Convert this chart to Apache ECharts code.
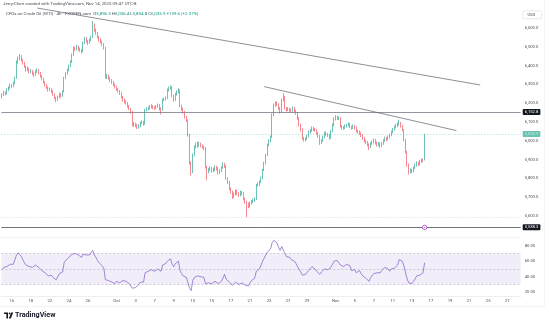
<!DOCTYPE html>
<html>
<head>
<meta charset="utf-8">
<script src="https://cdn.jsdelivr.net/npm/echarts@6/dist/echarts.min.js"></script>
<style>
  html, body { margin: 0; padding: 0; background: #ffffff; }
  #chart { width: 549px; height: 328px; }
</style>
</head>
<body>
<div id="chart"></div>
<script>
// CFDs on Crude Oil (WTI), 4h candles, price x100 — [open, close, low, high]
const ohlc = [
  [6232,6244,6225,6252],[6244,6258,6238,6266],[6258,6250,6242,6263],[6250,6272,6246,6279],[6272,6281,6264,6290],
  [6281,6296,6276,6304],[6296,6289,6280,6302],[6289,6308,6285,6316],[6308,6334,6300,6340],[6334,6419,6330,6428],
  [6419,6440,6410,6448],[6440,6451,6428,6462],[6451,6430,6422,6456],[6430,6414,6405,6436],[6414,6395,6388,6420],
  [6395,6377,6368,6400],[6377,6383,6370,6394],[6383,6366,6358,6388],[6366,6372,6360,6382],[6372,6358,6350,6377],
  [6358,6350,6338,6364],[6350,6368,6345,6376],[6368,6377,6360,6386],[6377,6360,6352,6382],[6360,6345,6336,6366],
  [6345,6330,6322,6350],[6330,6312,6305,6336],[6312,6297,6288,6318],[6297,6285,6276,6302],[6285,6270,6262,6290],
  [6270,6276,6264,6284],[6276,6265,6255,6280],[6265,6248,6240,6270],[6248,6228,6220,6252],[6228,6217,6205,6234],
  [6217,6232,6212,6240],[6232,6249,6226,6256],[6249,6238,6230,6255],[6238,6262,6234,6268],[6262,6334,6258,6340],
  [6334,6360,6328,6366],[6360,6377,6352,6384],[6377,6398,6370,6405],[6398,6420,6392,6428],[6420,6457,6414,6464],
  [6457,6494,6450,6502],[6494,6488,6478,6500],[6488,6500,6482,6510],[6500,6490,6480,6506],[6490,6483,6472,6496],
  [6483,6476,6465,6490],[6476,6521,6470,6528],[6521,6547,6515,6554],[6547,6530,6522,6552],[6530,6521,6510,6536],
  [6521,6538,6516,6545],[6538,6553,6530,6560],[6553,6617,6548,6638],[6617,6590,6580,6625],[6590,6574,6565,6598],
  [6574,6552,6545,6580],[6552,6537,6528,6558],[6537,6528,6518,6545],[6528,6515,6505,6534],[6515,6494,6486,6520],
  [6494,6339,6330,6500],[6339,6345,6328,6356],[6345,6334,6325,6352],[6334,6322,6312,6340],[6322,6313,6302,6328],
  [6313,6300,6290,6318],[6300,6286,6278,6306],[6286,6275,6266,6292],[6275,6265,6256,6280],[6265,6254,6244,6270],
  [6254,6232,6224,6260],[6232,6217,6208,6238],[6217,6210,6198,6224],[6210,6201,6192,6216],[6201,6185,6176,6206],
  [6185,6170,6162,6190],[6170,6153,6144,6175],[6153,6084,6076,6158],[6084,6090,6074,6100],[6090,6084,6072,6096],
  [6084,6070,6062,6090],[6070,6078,6064,6088],[6078,6095,6072,6102],[6095,6100,6088,6108],[6100,6089,6080,6106],
  [6089,6164,6085,6170],[6164,6170,6156,6178],[6170,6174,6162,6182],[6174,6180,6166,6190],[6180,6185,6172,6194],
  [6185,6178,6168,6190],[6178,6174,6164,6184],[6174,6182,6168,6190],[6182,6190,6176,6198],[6190,6172,6162,6195],
  [6172,6164,6140,6178],[6164,6217,6160,6224],[6217,6222,6210,6230],[6222,6228,6214,6236],[6228,6270,6222,6278],
  [6270,6280,6262,6288],[6280,6286,6272,6295],[6286,6240,6232,6290],[6240,6217,6208,6246],[6217,6248,6212,6255],
  [6248,6260,6240,6268],[6260,6270,6252,6280],[6270,6185,6178,6274],[6185,6170,6160,6192],[6170,6153,6144,6176],
  [6153,6126,6118,6158],[6126,6110,6100,6132],[6110,6030,6022,6114],[6030,5881,5872,6036],[5881,5833,5815,5890],
  [5833,5924,5828,5932],[5924,5966,5918,5975],[5966,5972,5958,5990],[5972,5977,5962,5996],[5977,5985,5968,5994],
  [5985,5972,5964,5990],[5972,5968,5958,5980],[5968,5961,5950,5974],[5961,5860,5852,5966],[5860,5833,5790,5866],
  [5833,5845,5826,5854],[5845,5854,5838,5864],[5854,5840,5830,5860],[5840,5844,5832,5856],[5844,5858,5838,5868],
  [5858,5854,5842,5866],[5854,5830,5820,5860],[5830,5838,5822,5848],[5838,5856,5832,5864],[5856,5876,5850,5884],
  [5876,5865,5855,5882],[5865,5800,5792,5870],[5800,5780,5770,5806],[5780,5745,5736,5786],[5745,5727,5718,5752],
  [5727,5700,5690,5734],[5700,5715,5694,5724],[5715,5732,5708,5740],[5732,5720,5710,5738],[5720,5711,5700,5726],
  [5711,5725,5704,5734],[5725,5721,5710,5732],[5721,5690,5682,5726],[5690,5673,5664,5696],[5673,5663,5592,5680],
  [5663,5650,5640,5670],[5650,5668,5644,5676],[5668,5676,5660,5684],[5676,5684,5668,5692],[5684,5689,5674,5698],
  [5689,5764,5684,5770],[5764,5770,5756,5778],[5770,5780,5760,5788],[5780,5800,5774,5808],[5800,5844,5794,5850],
  [5844,5880,5838,5888],[5880,5924,5874,5930],[5924,5977,5918,5984],[5977,6000,5970,6008],[6000,6020,5992,6028],
  [6020,6136,6015,6145],[6136,6190,6130,6198],[6190,6200,6180,6210],[6200,6196,6185,6208],[6196,6174,6165,6200],
  [6174,6153,6144,6180],[6153,6217,6148,6224],[6217,6233,6210,6254],[6233,6174,6166,6238],[6174,6164,6155,6180],
  [6164,6170,6158,6178],[6170,6164,6154,6176],[6164,6160,6150,6172],[6160,6174,6154,6182],[6174,6160,6150,6180],
  [6160,6147,6138,6166],[6147,6121,6112,6152],[6121,6084,6076,6126],[6084,6060,6050,6090],[6060,6014,6005,6066],
  [6014,6004,5995,6020],[6004,6010,5996,6018],[6010,6025,6004,6032],[6025,6046,6018,6054],[6046,6055,6038,6062],
  [6055,6068,6048,6076],[6068,6062,6052,6074],[6062,6057,6048,6068],[6057,6040,6032,6062],[6040,6025,6016,6046],
  [6025,5988,5978,6030],[5988,6000,5982,6008],[6000,6020,5994,6028],[6020,6041,6014,6048],[6041,6035,6026,6050],
  [6035,6030,6020,6042],[6030,6014,6005,6036],[6014,6050,6010,6058],[6050,6084,6044,6092],[6084,6116,6078,6124],
  [6116,6126,6108,6136],[6126,6120,6110,6132],[6120,6121,6110,6130],[6121,6078,6070,6126],[6078,6070,6060,6084],
  [6070,6068,6058,6078],[6068,6078,6062,6086],[6078,6082,6070,6090],[6082,6089,6076,6098],[6089,6075,6066,6094],
  [6075,6068,6058,6080],[6068,6078,6062,6086],[6078,6070,6060,6084],[6070,6052,6044,6076],[6052,6048,6038,6058],
  [6048,6041,6032,6054],[6041,6030,6020,6046],[6030,6014,6005,6036],[6014,6000,5990,6020],[6000,5993,5982,6006],
  [5993,5980,5970,5998],[5980,5966,5950,5986],[5966,5985,5960,5992],[5985,5993,5978,6000],[5993,6004,5986,6012],
  [6004,5990,5980,6010],[5990,5977,5968,5996],[5977,5985,5970,5994],[5985,5972,5962,5990],[5972,5985,5966,5992],
  [5985,6000,5978,6008],[6000,6014,5994,6022],[6014,6008,5998,6020],[6008,6020,6002,6028],[6020,6030,6012,6038],
  [6030,6046,6024,6054],[6046,6060,6040,6068],[6060,6073,6054,6080],[6073,6080,6066,6090],[6080,6089,6072,6098],
  [6089,6094,6080,6112],[6094,6078,6070,6100],[6078,6057,6050,6084],[6057,6004,5996,6062],[6004,5940,5932,6010],
  [5940,5870,5862,5946],[5870,5833,5820,5878],[5833,5844,5826,5852],[5844,5838,5828,5850],[5838,5854,5832,5862],
  [5854,5870,5848,5878],[5870,5881,5862,5890],[5881,5875,5866,5888],[5875,5890,5868,5898],[5890,5897,5882,5905],
  [5897,5896.3,5886,5904],[5896.3,6035.9,5894.8,6036.4]
];

// RSI(14) readings, one per candle
const rsi = [
  49,52,50,53,54, 56,54,56,58, 68,71,72,66, 62,58,55,56, 53,54,52,50, 55,56,52,50,
  48,46,45,43, 41,43,42,39, 37,36,40, 44,42,46, 58,61,63, 65,66,69, 71,70,71, 68,66,65,
  69,71,68, 66,68,69, 74, 68,65,61, 58,56,54,51, 36, 37,35,34,33, 32,31,34,33, 32,31,35,36,
  34,32,31,30, 25,27,26,28, 30,33,34,33, 45,46,47,48, 49,48,47,48, 50,48,47, 55,56,57,
  60,62,63, 56,53, 57,58,60, 48,44,41, 39,39,32, 25,22, 35,39,40,41, 42,40,40,39,
  31,30,32,33, 31,32,34,34, 31,32,34, 38,43,37, 36,33,31,29, 31,33,31,30, 32,32,30,29,
  28,28,32,35, 37,38,47, 48,50,55, 60,64,68,72, 74,76,84, 87,86,84, 78,74,79,80,
  70,66,67,65, 62,63,60,57, 53,49,46,42, 42,43,45,48, 50,53,52,50, 47,46,43,46,
  48,50,49,49, 47,52,56,60, 61,61,62,55, 53,53,55,56, 57,54,48,50, 49,45,46,48,
  44,41,39,38, 37,34,39,41, 44,42,45,47, 45,48,50,52, 51,50,47,50, 52,51,49,55,
  62,63,60,54, 45,37,32,30, 31,34,37,41, 40,42,44,45, 58
];

const priceTicks = [5600, 5700, 5800, 5900, 6000, 6100, 6200, 6300, 6400, 6500, 6600];
const rsiTicks = [20, 40, 60, 80];
const tickDates = ['2025-09-16','2025-09-18','2025-09-22','2025-09-24','2025-09-26','2025-10-01','2025-10-03',
  '2025-10-07','2025-10-09','2025-10-13','2025-10-15','2025-10-17','2025-10-21','2025-10-23','2025-10-27',
  '2025-10-29','2025-11-03','2025-11-05','2025-11-07','2025-11-11','2025-11-13','2025-11-17','2025-11-19',
  '2025-11-21','2025-11-25','2025-11-27'];
const tickTexts = ['16','18','22','24','26','Oct','3','7','9','13','15','17','21','23','27','29','Nov',
  '5','7','11','13','17','19','21','25','27'];

const resistance = 6152.8;
const support = 5538.3;
const rangeLow = 5592;
const lastPrice = 6035.9;
const trendLines = [
  [['2025-09-18 16:00', 6707], ['2025-11-24 04:00', 6297]],
  [['2025-10-22 12:00', 6288], ['2025-11-19 16:00', 6054]]
];
const eventMark = ['2025-11-14 08:00', 5538.3];

// 4h session calendar: Sun 16–24, Mon–Thu full day, Fri until 16:00
const SLOTS = 327;
const categories = [];
(function buildCalendar() {
  let t = Date.UTC(2025, 8, 15);
  const pad = n => String(n).padStart(2, '0');
  while (categories.length < SLOTS) {
    const d = new Date(t);
    const dow = d.getUTCDay();
    const hours = dow === 0 ? [16, 20] : dow === 6 ? [] : dow === 5 ? [0, 4, 8, 12] : [0, 4, 8, 12, 16, 20];
    const day = d.getUTCFullYear() + '-' + pad(d.getUTCMonth() + 1) + '-' + pad(d.getUTCDate());
    for (const h of hours) if (categories.length < SLOTS) categories.push(day + ' ' + pad(h) + ':00');
    t += 86400000;
  }
})();
const tickMap = {};
tickDates.forEach((d, i) => { tickMap[d + ' 00:00'] = tickTexts[i]; });

const UP = '#089981', DOWN = '#f23645';
const FONT = 'Roboto, "DejaVu Sans", sans-serif';
const fmtPrice = v => v.toLocaleString('en-US', { minimumFractionDigits: 1, maximumFractionDigits: 1 });

const priceLevel = (value, bg, lineStyle) => ({
  yAxis: value,
  lineStyle: lineStyle,
  label: {
    show: true, position: 'end', distance: 2,
    formatter: () => fmtPrice(value),
    backgroundColor: bg, color: '#ffffff', fontSize: 4.2, fontFamily: FONT,
    padding: [1, 2, 1, 2], borderRadius: 1
  }
});

const chart = echarts.init(document.getElementById('chart'), null, { renderer: 'canvas' });

chart.setOption({
  animation: false,
  backgroundColor: '#ffffff',
  grid: [
    { left: 1.4, right: 28.3, top: 5, height: 232 },
    { left: 1.4, right: 28.3, top: 238, height: 58 }
  ],
  xAxis: [
    { type: 'category', gridIndex: 0, data: categories, boundaryGap: true,
      axisLine: { show: false }, axisTick: { show: false }, axisLabel: { show: false }, splitLine: { show: false } },
    { type: 'category', gridIndex: 1, data: categories, boundaryGap: true,
      axisLine: { show: true, lineStyle: { color: '#e0e3eb', width: 0.6 } }, axisTick: { show: false },
      splitLine: { show: false },
      axisLabel: {
        show: true, margin: 3, fontSize: 4.2, color: '#4a4e59', fontFamily: FONT,
        interval: (idx, val) => tickMap[val] !== undefined,
        formatter: val => tickMap[val] || ''
      } }
  ],
  yAxis: [
    { type: 'value', gridIndex: 0, position: 'right', min: 5487, max: 6723, scale: true,
      axisLine: { show: false }, axisTick: { show: false }, splitLine: { show: false },
      axisLabel: { customValues: priceTicks, margin: 4, fontSize: 4.2, color: '#4a4e59', fontFamily: FONT,
        formatter: v => fmtPrice(v) } },
    { type: 'value', gridIndex: 1, position: 'right', min: 15, max: 90,
      axisLine: { show: false }, axisTick: { show: false }, splitLine: { show: false },
      axisLabel: { customValues: rsiTicks, margin: 4, fontSize: 4.2, color: '#4a4e59', fontFamily: FONT,
        formatter: v => v.toFixed(2) } }
  ],
  series: [
    {
      name: 'WTI', type: 'candlestick', xAxisIndex: 0, yAxisIndex: 0,
      data: ohlc.map(r => [r[0], r[1], r[2], r[3]]),
      barWidth: 1.1,
      itemStyle: { color: UP, color0: DOWN, borderColor: UP, borderColor0: DOWN, borderWidth: 0.6 },
      markLine: {
        silent: true, symbol: 'none',
        data: [
          priceLevel(resistance, '#131722', { color: '#787b86', width: 0.8, type: 'solid' }),
          priceLevel(support, '#131722', { color: '#4a4e59', width: 0.8, type: 'solid' }),
          priceLevel(lastPrice, UP, { color: UP, width: 0.6, type: [1, 2], opacity: 0.6 }),
          { yAxis: rangeLow, label: { show: false }, lineStyle: { color: '#c3c6ce', width: 0.6, type: [1, 2] } },
          ...trendLines.map(seg => [
            { coord: seg[0], label: { show: false }, lineStyle: { color: '#5d606b', width: 0.7, type: 'solid' } },
            { coord: seg[1] }
          ])
        ]
      },
      markPoint: {
        silent: true,
        data: [{ coord: eventMark, symbol: 'circle', symbolSize: 4.5,
          itemStyle: { color: '#ffffff', borderColor: '#9c27b0', borderWidth: 0.7 },
          label: { show: true, formatter: 'E', fontSize: 2.5, color: '#9c27b0', position: 'inside' } }]
      }
    },
    {
      name: 'RSI', type: 'line', xAxisIndex: 1, yAxisIndex: 1,
      data: rsi, showSymbol: false, symbol: 'none',
      lineStyle: { color: '#7e57c2', width: 0.7 },
      markArea: {
        silent: true,
        itemStyle: { color: 'rgba(126,87,194,0.1)' },
        data: [[{ yAxis: 30 }, { yAxis: 70 }]]
      },
      markLine: {
        silent: true, symbol: 'none', label: { show: false },
        lineStyle: { color: 'rgba(120,123,134,0.55)', width: 0.6, type: [2, 2] },
        data: [{ yAxis: 70 }, { yAxis: 50 }, { yAxis: 30 }]
      }
    }
  ],
  graphic: [
    { type: 'text', left: 3, top: 2.3, silent: true,
      style: { text: 'Jerry-Chen created with TradingView.com, Nov 14, 2025 09:47 UTC-8',
        fontSize: 4.4, fill: '#4a4e59', fontFamily: FONT } },
    { type: 'text', left: 6, top: 11.5, silent: true,
      style: {
        text: '{n|CFDs on Crude Oil (WTI) · 4h · FXOPEN.com}  {k|O}{v|5,896.3} {k|H}{v|6,036.4} {k|L}{v|5,894.8} {k|C}{v|6,035.9} {v|+139.6 (+2.37%)}',
        fontFamily: FONT, fontSize: 4.4,
        rich: {
          n: { fill: '#4a4e59', fontSize: 4.4, fontFamily: FONT },
          k: { fill: '#4a4e59', fontSize: 4.4, fontFamily: FONT },
          v: { fill: UP, fontSize: 4.4, fontFamily: FONT }
        }
      } },
    { type: 'rect', left: 522.5, top: 10.5, silent: true,
      shape: { width: 19, height: 8, r: 1.5 },
      style: { fill: '#ffffff', stroke: '#d1d4dc', lineWidth: 0.5 } },
    { type: 'text', left: 527.5, top: 12.5, silent: true,
      style: { text: 'USD', fontSize: 4, fill: '#4a4e59', fontFamily: FONT } },
    { type: 'line', silent: true, shape: { x1: 0, y1: 237.5, x2: 521, y2: 237.5 },
      style: { stroke: '#eceef2', lineWidth: 0.6 } },
    { type: 'line', silent: true, shape: { x1: 0, y1: 306.5, x2: 544, y2: 306.5 },
      style: { stroke: '#eceef2', lineWidth: 0.6 } },
    { type: 'line', silent: true, shape: { x1: 544.5, y1: 0, x2: 544.5, y2: 306.5 },
      style: { stroke: '#eceef2', lineWidth: 0.6 } },
    // TradingView wordmark
    { type: 'group', left: 4, top: 312, silent: true, children: [
      { type: 'polygon', shape: { points: [[0,0],[4,0],[4,6],[2.4,6],[2.4,1.6],[0,1.6]] }, style: { fill: '#131722' } },
      { type: 'circle', shape: { cx: 5.6, cy: 0.9, r: 0.9 }, style: { fill: '#131722' } },
      { type: 'polygon', shape: { points: [[7.2,0],[9.2,0],[6.8,6],[4.8,6]] }, style: { fill: '#131722' } },
      { type: 'text', x: 11, y: -0.5, style: { text: 'TradingView', fontSize: 7.2, fontWeight: 'bold',
        fill: '#131722', fontFamily: FONT } }
    ] }
  ]
});
</script>
</body>
</html>
